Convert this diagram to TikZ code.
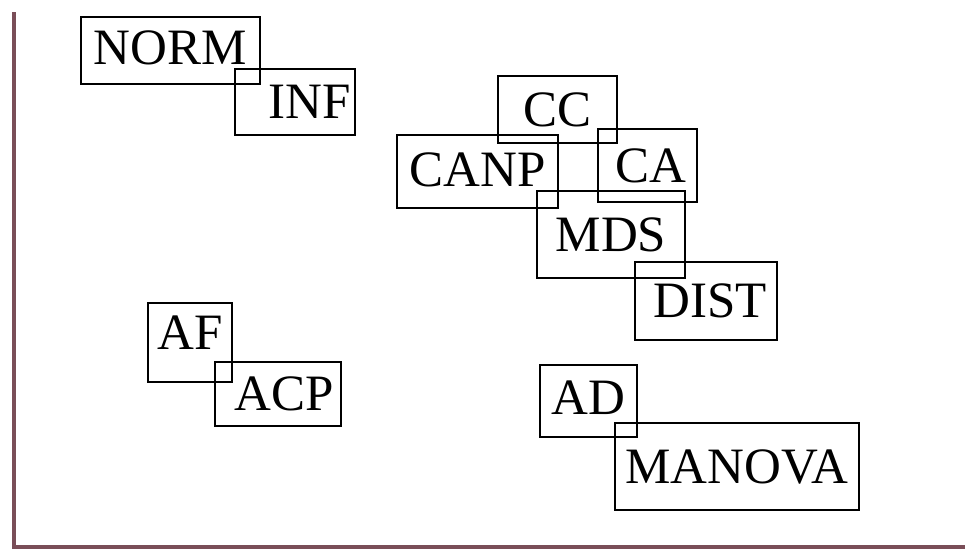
\documentclass[tikz,border=0pt]{standalone}
\usepackage{fontspec}
\setmainfont{Liberation Serif}
\usepackage{tikz}
\definecolor{axisred}{RGB}{122,78,88}

\begin{document}
\begin{tikzpicture}[x=1pt,y=-1pt,
  box/.style 2 args={draw, line width=2.6pt, inner sep=2pt, text depth=0pt,
    minimum width=#1pt, minimum height=#2pt, font=\fontsize{51}{60}\selectfont}]
  \useasboundingbox (0,0) rectangle (965,550);
  % ---- axes ----
  \draw[axisred, line width=4pt] (14,12) -- (14,547) -- (965,547);
  % ---- upper left ----
  \node[box={179}{67}, text depth=6pt] (norm) at (170.5,50.5) {NORM};
  \node[box={120}{66}] (inf) at (295,102) {\hspace*{30pt}INF};
  % ---- upper right cluster ----
  \node[box={119}{67}] (cc) at (557.5,109.5) {CC};
  \node[box={161}{73}, text depth=4pt] (canp) at (477.5,171.5) {CANP};
  \node[box={99}{73}] (ca) at (647.5,165.5) {\hspace*{6pt}CA};
  \node[box={148}{87}] (mds) at (611,234.5) {MDS};
  \node[box={142}{78}] (dist) at (706,301) {\hspace*{8pt}DIST};
  % ---- lower left ----
  \node[box={84}{79}, text depth=20pt] (af) at (190,342.5) {AF};
  \node[box={126}{64}] (acp) at (278,394) {\hspace*{12pt}ACP};
  % ---- lower right ----
  \node[box={97}{72}, text depth=6pt] (ad) at (588.5,401) {AD};
  \node[box={244}{87}] (manova) at (737,466.5) {MANOVA};
\end{tikzpicture}
\end{document}
